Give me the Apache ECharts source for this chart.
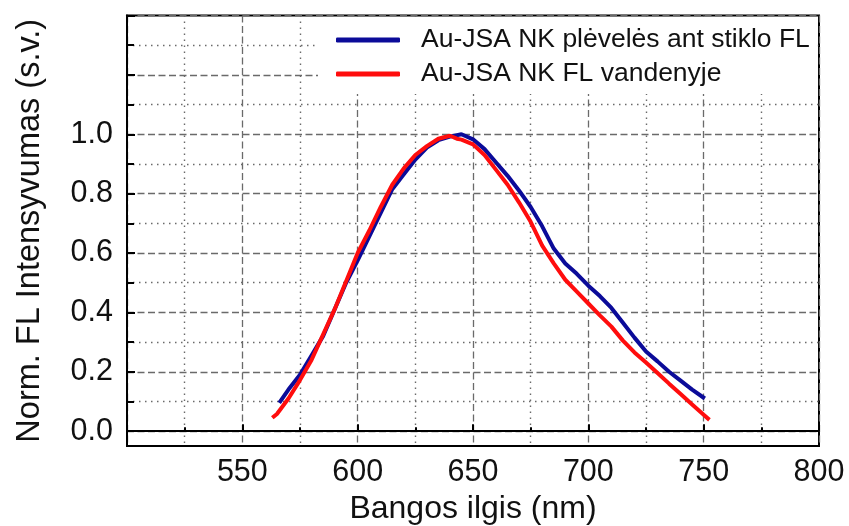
<!DOCTYPE html>
<html>
<head>
<meta charset="utf-8">
<script src="https://cdn.jsdelivr.net/npm/echarts@6/dist/echarts.min.js"></script>
<style>html,body{margin:0;padding:0;background:#fff;}#c{width:849px;height:526px;}</style>
</head>
<body>
<div id="c"></div>
<script>
// Series names
const seriesNames = ['Au-JSA NK plėvelės ant stiklo FL', 'Au-JSA NK FL vandenyje'];
// Blue: film on glass
const blueNm = [566, 570, 575, 580, 585, 590, 595, 600, 605, 610, 615, 620, 625, 630, 635, 640, 645, 650, 655, 660, 665, 670, 675, 680, 685, 690, 695, 700, 705, 710, 715, 720, 725, 730, 735, 740, 745, 750.5];
const blueVal = [0.095, 0.14, 0.19, 0.255, 0.32, 0.41, 0.50, 0.575, 0.655, 0.735, 0.815, 0.865, 0.915, 0.955, 0.98, 0.992, 1.0, 0.983, 0.95, 0.905, 0.86, 0.81, 0.755, 0.69, 0.615, 0.565, 0.53, 0.49, 0.455, 0.415, 0.365, 0.315, 0.268, 0.235, 0.2, 0.17, 0.14, 0.11];
// Red: in water
const redNm = [563, 565, 570, 575, 580, 585, 590, 595, 600, 605, 610, 615, 620, 625, 630, 635, 640, 643, 645, 650, 655, 660, 665, 670, 675, 680, 685, 690, 695, 700, 705, 710, 715, 720, 725, 730, 735, 740, 745, 750, 752.5];
const redVal = [0.045, 0.058, 0.11, 0.172, 0.24, 0.325, 0.41, 0.505, 0.6, 0.675, 0.755, 0.83, 0.885, 0.93, 0.96, 0.985, 0.995, 0.985, 0.982, 0.966, 0.93, 0.88, 0.83, 0.77, 0.705, 0.625, 0.565, 0.51, 0.47, 0.43, 0.39, 0.352, 0.305, 0.265, 0.231, 0.196, 0.16, 0.125, 0.09, 0.055, 0.038];
// Axes
const xMin = 500, xMax = 800, xStep = 50;
const yMin = -0.05, yMax = 1.4, yStep = 0.2, yLabelMax = 1.0;
const xTitle = 'Bangos ilgis (nm)';
const yTitle = 'Norm. FL Intensyvumas (s.v.)';

const FONT = "'Liberation Sans', Arial, sans-serif";
const TXT = '#111';
const GRIDC = '#6a6a6a';

const chart = echarts.init(document.getElementById('c'), null, {renderer: 'canvas'});
const gTop = 15.5, gBottom = 80, gLeft = 127, gRight = 30;
const plotH = 526 - gTop - gBottom;
const zeroY = (526 - gBottom) - (0 - yMin) / (yMax - yMin) * plotH;

const zip = (a, b) => a.map((v, i) => [v, b[i]]);

chart.setOption({
  animation: false,
  backgroundColor: '#fff',
  grid: [
    {left: gLeft, right: gRight, top: gTop, bottom: gBottom, outerBoundsMode: 'none', containLabel: false,
     show: true, borderColor: '#000', borderWidth: 2, backgroundColor: 'transparent'},
    {left: gLeft, right: gRight, top: gTop, bottom: 526 - zeroY, outerBoundsMode: 'none', containLabel: false}
  ],
  legend: {
    orient: 'vertical',
    left: 318, top: 17,
    padding: [8, 8, 5, 18],
    backgroundColor: '#fff',
    itemGap: 4,
    itemWidth: 64, itemHeight: 5,
    icon: 'roundRect',
    textStyle: {fontFamily: FONT, fontSize: 26.5, color: TXT, lineHeight: 30, padding: [0, 0, 0, 16]},
    data: seriesNames
  },
  xAxis: [
    {
      type: 'value', gridIndex: 0, min: xMin, max: xMax, interval: xStep,
      axisLine: {show: true, lineStyle: {color: '#000', width: 2}},
      axisTick: {show: true, inside: true, length: 7, lineStyle: {color: '#000', width: 2}},
      minorTick: {show: true, splitNumber: 2, length: 4, lineStyle: {color: '#000', width: 2}},
      splitLine: {show: true, lineStyle: {color: GRIDC, type: [7, 3.5], width: 1.3}},
      minorSplitLine: {show: true, lineStyle: {color: GRIDC, type: [1.5, 4.5], width: 1.4}},
      axisLabel: {fontFamily: FONT, fontSize: 30.5, color: TXT, margin: 11, formatter: v => v === xMin ? '' : String(v)},
      name: xTitle, nameLocation: 'middle', nameGap: 47,
      nameTextStyle: {fontFamily: FONT, fontSize: 32, color: TXT}
    },
    {type: 'value', gridIndex: 1, min: xMin, max: xMax, show: false}
  ],
  yAxis: [
    {
      type: 'value', gridIndex: 0, min: yMin, max: yMax,
      axisLine: {show: true, lineStyle: {color: '#000', width: 2}},
      axisTick: {show: false}, axisLabel: {show: false}, splitLine: {show: false},
      name: yTitle, nameLocation: 'middle', nameGap: 80, nameRotate: 90,
      nameTextStyle: {fontFamily: FONT, fontSize: 32.5, color: TXT}
    },
    {
      type: 'value', gridIndex: 1, min: 0, max: yMax, interval: yStep,
      axisLine: {show: false},
      axisTick: {show: true, inside: true, length: 8, lineStyle: {color: '#000', width: 2}},
      minorTick: {show: true, splitNumber: 2, length: 7, lineStyle: {color: '#000', width: 2}},
      splitLine: {show: true, lineStyle: {color: GRIDC, type: [7, 3.5], width: 1.3}},
      minorSplitLine: {show: true, lineStyle: {color: GRIDC, type: [1.5, 4.5], width: 1.4}},
      axisLabel: {fontFamily: FONT, fontSize: 30.5, color: TXT, margin: 14,
        formatter: v => v > yLabelMax + 1e-9 ? '' : v.toFixed(1)}
    }
  ],
  series: [
    {name: seriesNames[0], type: 'line', xAxisIndex: 0, yAxisIndex: 0, data: zip(blueNm, blueVal),
     showSymbol: false, symbol: 'none', lineStyle: {color: '#0b0b99', width: 4}, itemStyle: {color: '#0b0b99'}, z: 3},
    {name: seriesNames[1], type: 'line', xAxisIndex: 0, yAxisIndex: 0, data: zip(redNm, redVal),
     showSymbol: false, symbol: 'none', lineStyle: {color: '#ff0d0d', width: 4}, itemStyle: {color: '#ff0d0d'}, z: 4}
  ]
});
</script>
</body>
</html>
